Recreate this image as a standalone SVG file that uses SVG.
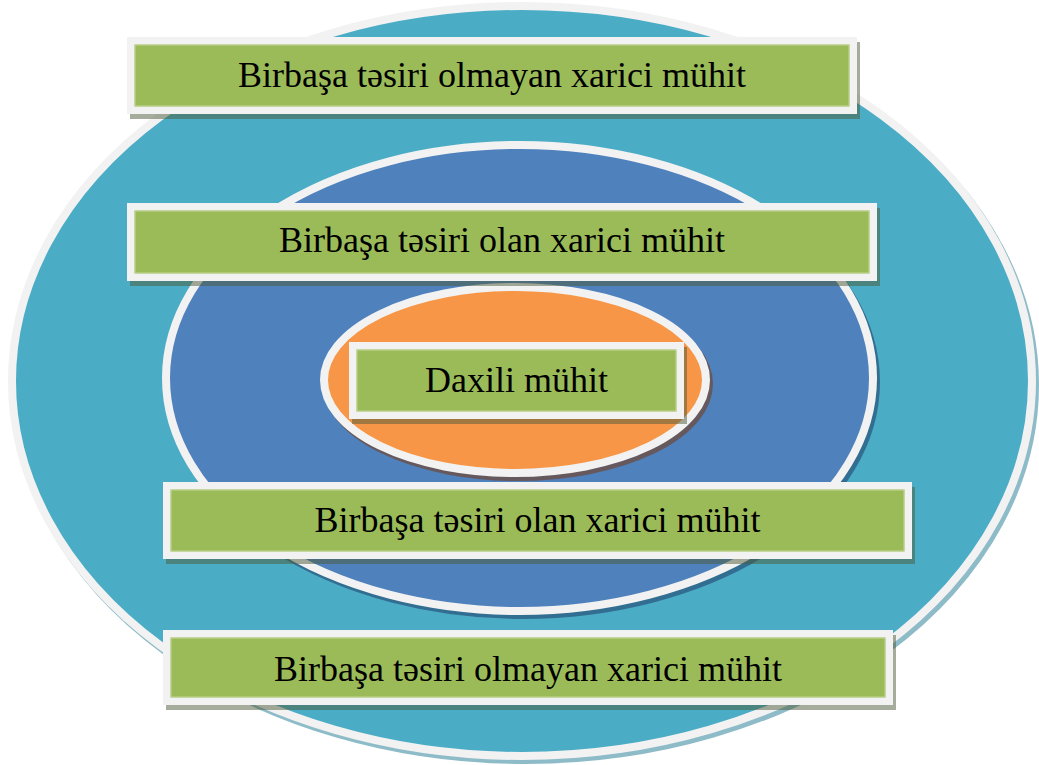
<svg xmlns="http://www.w3.org/2000/svg" width="1039" height="765" viewBox="0 0 1039 765">
  <style>
    .ring { stroke: #f2f2f2; stroke-width: 8; }
    .ring-shadow { stroke-width: 8; opacity: 0.55; }
    .box { fill: #9bbb59; stroke: #f2f2f2; stroke-width: 7.5; }
    .box-inner { fill: none; stroke: #c3d69b; stroke-width: 1; }
    .box-shadow { fill: #4b5a37; opacity: 0.5; }
    .label { font-family: "Liberation Serif", "Times New Roman", serif; font-size: 36px; fill: #000; text-anchor: middle; }
  </style>

  <rect width="1039" height="765" fill="#ffffff"/>

  <!-- outer ring: environment without direct influence -->
  <g id="outer-ring">
    <ellipse class="ring-shadow" cx="525" cy="385" rx="510" ry="375" fill="#31859c" stroke="#31859c"/>
    <ellipse class="ring" cx="522" cy="381" rx="510" ry="375" fill="#4bacc6"/>
  </g>

  <!-- middle ring: environment with direct influence -->
  <g id="middle-ring">
    <ellipse class="ring-shadow" cx="522.5" cy="382" rx="353.5" ry="233" fill="#1f3d66" stroke="#1f3d66"/>
    <ellipse class="ring" cx="519.5" cy="378" rx="353.5" ry="233" fill="#4f81bd"/>
  </g>

  <!-- inner ring: internal environment -->
  <g id="inner-ring">
    <ellipse class="ring-shadow" cx="518" cy="384" rx="191" ry="93" fill="#7a3a10" stroke="#7a3a10"/>
    <ellipse class="ring" cx="515" cy="380" rx="191" ry="93" fill="#f79646"/>
  </g>

  <!-- labels -->
  <g id="label-top-outer">
    <rect class="box-shadow" x="130" y="42" width="730" height="77"/>
    <rect class="box" x="130.75" y="40.75" width="722.5" height="69.5"/>
    <rect class="box-inner" x="135" y="45" width="714" height="61"/>
    <text class="label" x="492" y="87">Birbaşa təsiri olmayan xarici mühit</text>
  </g>

  <g id="label-top-middle">
    <rect class="box-shadow" x="130" y="208" width="750" height="78"/>
    <rect class="box" x="130.75" y="206.75" width="742.5" height="70.5"/>
    <rect class="box-inner" x="135" y="211" width="734" height="62"/>
    <text class="label" x="502" y="252">Birbaşa təsiri olan xarici mühit</text>
  </g>

  <g id="label-inner">
    <rect class="box-shadow" x="352" y="347" width="335" height="77"/>
    <rect class="box" x="352.75" y="345.75" width="327.5" height="69.5"/>
    <rect class="box-inner" x="357" y="350" width="319" height="61"/>
    <text class="label" x="516.5" y="392">Daxili mühit</text>
  </g>

  <g id="label-bottom-middle">
    <rect class="box-shadow" x="166" y="487" width="749" height="77"/>
    <rect class="box" x="166.75" y="485.75" width="741.5" height="69.5"/>
    <rect class="box-inner" x="171" y="490" width="733" height="61"/>
    <text class="label" x="537.5" y="532">Birbaşa təsiri olan xarici mühit</text>
  </g>

  <g id="label-bottom-outer">
    <rect class="box-shadow" x="166" y="635" width="730" height="75"/>
    <rect class="box" x="166.75" y="633.75" width="722.5" height="67.5"/>
    <rect class="box-inner" x="171" y="638" width="714" height="59"/>
    <text class="label" x="528" y="681">Birbaşa təsiri olmayan xarici mühit</text>
  </g>

  <!-- no connectors in this diagram -->
  <g id="connectors"/>
</svg>
